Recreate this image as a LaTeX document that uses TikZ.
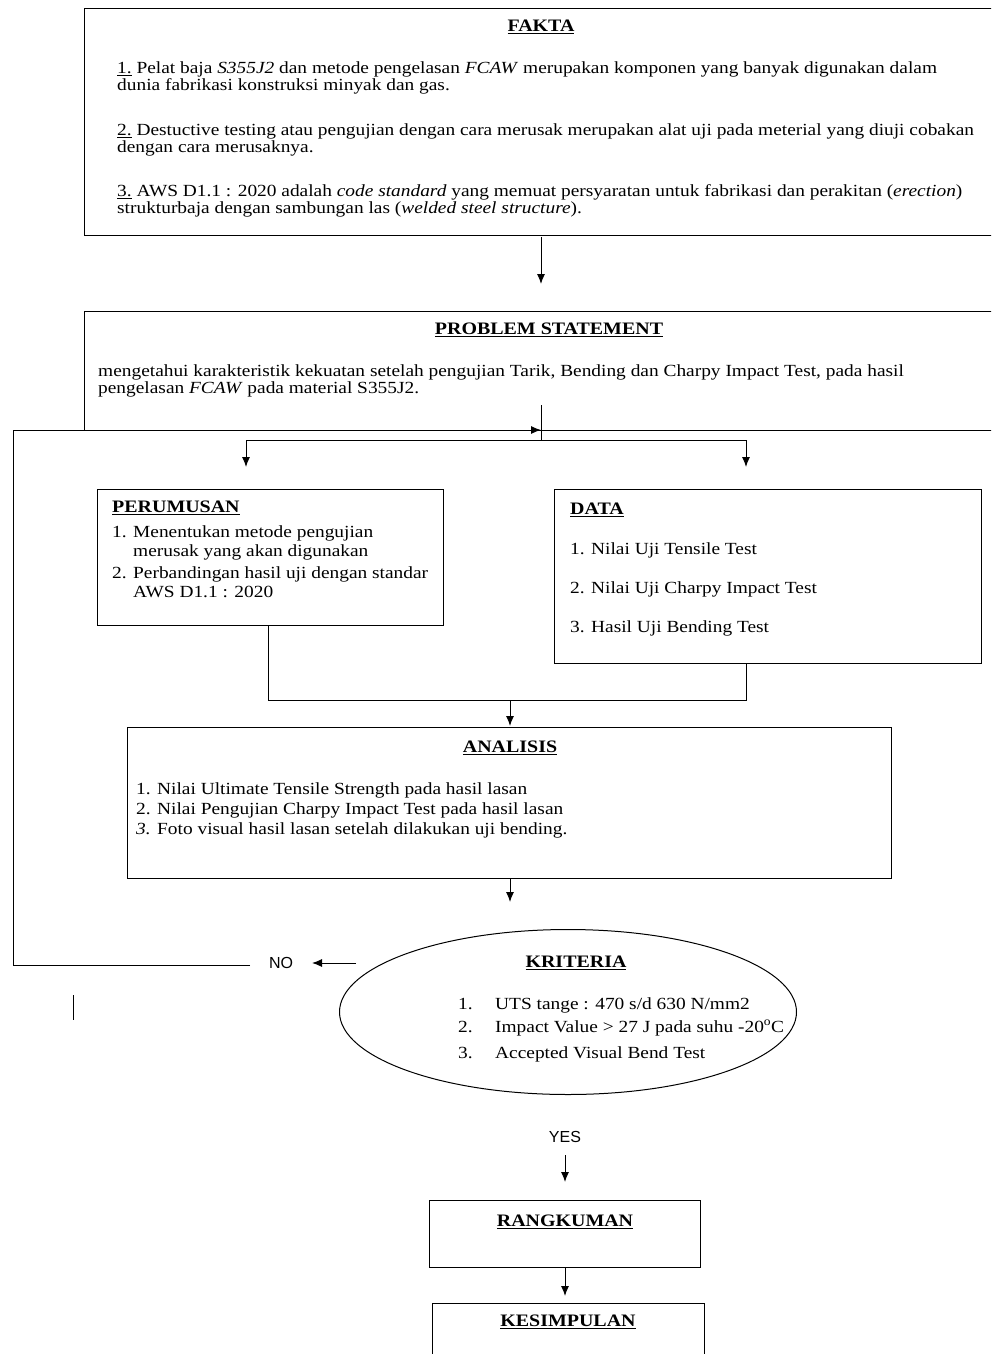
\documentclass[tikz,border=0pt]{standalone}
\usepackage{fontspec}
\setmainfont[FakeStretch=1.14]{Liberation Serif}
\setsansfont{Liberation Sans}
\usetikzlibrary{shapes.geometric,arrows.meta}
\tikzset{
  box/.style={draw, line width=1.1pt, rectangle, inner sep=0pt},
  arr/.style={-{Latex[length=10pt,width=8pt]}, line width=1pt},
  ln/.style={line width=1pt},
  txt/.style={anchor=west, align=left, inner sep=0pt, font=\fontsize{17}{17.5}\selectfont},
  ttl/.style={inner sep=0pt, font=\fontsize{17.5}{18}\selectfont\bfseries},
  sans/.style={inner sep=0pt, font=\sffamily\fontsize{16}{18}\selectfont}
}
\begin{document}
\begin{tikzpicture}[x=1pt,y=-1pt]
\useasboundingbox (0,0) rectangle (991,1354);
\clip (0,0) rectangle (991,1354);
% boxes
\node[box, anchor=north west, minimum width=930, minimum height=227] (fakta) at (84,8) {};
\node[box, anchor=north west, minimum width=930, minimum height=119] (prob) at (84,311) {};
\node[box, anchor=north west, minimum width=346, minimum height=136] (perum) at (97,489) {};
\node[box, anchor=north west, minimum width=427, minimum height=174] (data) at (554,489) {};
\node[box, anchor=north west, minimum width=764, minimum height=151] (anal) at (127,727) {};
\node[draw, line width=1pt, ellipse, minimum width=457, minimum height=165, inner sep=0pt] (krit) at (568,1012) {};
\node[box, anchor=north west, minimum width=271, minimum height=67] (rangk) at (429,1200) {};
\node[box, anchor=north west, minimum width=272, minimum height=100] (kesim) at (432,1303) {};

% FAKTA texts
\node[ttl] (faktat) at (541,27) {\underline{FAKTA}};
\node[txt] (f1) at (117,78) {\underline{1.} Pelat baja \textit{S355J2} dan metode pengelasan \textit{FCAW} merupakan komponen yang banyak digunakan dalam\\dunia fabrikasi konstruksi minyak dan gas.};
\node[txt] (f2) at (117,140) {\underline{2.} Destuctive testing atau pengujian dengan cara merusak merupakan alat uji pada meterial yang diuji cobakan\\dengan cara merusaknya.};
\node[txt] (f3) at (117,201) {\underline{3.} AWS D1.1 : 2020 adalah \textit{code standard} yang memuat persyaratan untuk fabrikasi dan perakitan (\textit{erection})\\strukturbaja dengan sambungan las (\textit{welded steel structure}).};

% PROBLEM STATEMENT
\node[ttl] (probt) at (549,330) {\underline{PROBLEM STATEMENT}};
\node[txt] (p1) at (98,381) {mengetahui karakteristik kekuatan setelah pengujian Tarik, Bending dan Charpy Impact Test, pada hasil\\pengelasan \textit{FCAW} pada material S355J2.};

% PERUMUSAN
\node[ttl, anchor=west] (perumt) at (112,508) {\underline{PERUMUSAN}};
\node[txt, font=\fontsize{17}{19}\selectfont] (pr1) at (112,543) {1. Menentukan metode pengujian\\\phantom{1. }merusak yang akan digunakan};
\node[txt, font=\fontsize{17}{19}\selectfont] (pr2) at (112,582) {2. Perbandingan hasil uji dengan standar\\\phantom{2. }AWS D1.1 : 2020};

% DATA
\node[ttl, anchor=west] (datat) at (570,510) {\underline{DATA}};
\node[txt] (d1) at (570,550) {1. Nilai Uji Tensile Test};
\node[txt] (d2) at (570,589) {2. Nilai Uji Charpy Impact Test};
\node[txt] (d3) at (570,628) {3. Hasil Uji Bending Test};

% ANALISIS
\node[ttl] (analt) at (510,748) {\underline{ANALISIS}};
\node[txt, font=\fontsize{17}{20}\selectfont] (a1) at (136,810) {1. Nilai Ultimate Tensile Strength pada hasil lasan\\2. Nilai Pengujian Charpy Impact Test pada hasil lasan\\\textit{3.} Foto visual hasil lasan setelah dilakukan uji bending.};

% KRITERIA
\node[ttl] (kritt) at (576,963) {\underline{KRITERIA}};
\node[txt] (k1) at (458,1005) {\makebox[37pt][l]{1.}UTS tange : 470 s/d 630 N/mm2};
\node[txt] (k2) at (458,1028) {\makebox[37pt][l]{2.}Impact Value > 27 J pada suhu -20\textsuperscript{o}C};
\node[txt] (k3) at (458,1054) {\makebox[37pt][l]{3.}Accepted Visual Bend Test};

\node[ttl] (rangkt) at (565,1222) {\underline{RANGKUMAN}};
\node[ttl] (kesimt) at (568,1322) {\underline{KESIMPULAN}};

\node[sans] (no) at (281,963) {NO};
\node[sans] (yes) at (565,1137) {YES};

% coordinates
\coordinate (fa) at (541,237);
\coordinate (pa) at (541,284);
\coordinate (ps) at (541,405);
\coordinate (pj) at (541,440);
\coordinate (sl) at (246,440);
\coordinate (sr) at (746,440);
\coordinate (sle) at (246,467);
\coordinate (sre) at (746,467);
\coordinate (prb) at (268,625);
\coordinate (jl) at (268,700);
\coordinate (jr) at (746,700);
\coordinate (db) at (746,663);
\coordinate (jm) at (510,700);
\coordinate (ae) at (510,726);
\coordinate (ab) at (510,878);
\coordinate (ke) at (510,902);
\coordinate (fb1) at (250,965);
\coordinate (fb2) at (13,965);
\coordinate (fb3) at (13,430);
\coordinate (fb4) at (541,430);
\coordinate (nos) at (356,963);
\coordinate (noe) at (312,963);
\coordinate (ys) at (565,1155);
\coordinate (ye) at (565,1182);
\coordinate (rb) at (565,1267);
\coordinate (ke2) at (565,1296);
\coordinate (st1) at (73,995);
\coordinate (st2) at (73,1020);

\draw[arr] (fa) -- (pa);
\draw[ln] (ps) -- (pj);
\draw[ln] (sl) -- (sr);
\draw[arr] (sl) -- (sle);
\draw[arr] (sr) -- (sre);
\draw[ln] (prb) -- (jl) -- (jr) -- (db);
\draw[arr] (jm) -- (ae);
\draw[arr] (ab) -- (ke);
\draw[arr] (fb1) -- (fb2) -- (fb3) -- (fb4);
\draw[arr] (nos) -- (noe);
\draw[arr] (ys) -- (ye);
\draw[arr] (rb) -- (ke2);
\draw[ln] (st1) -- (st2);
\end{tikzpicture}
\end{document}
